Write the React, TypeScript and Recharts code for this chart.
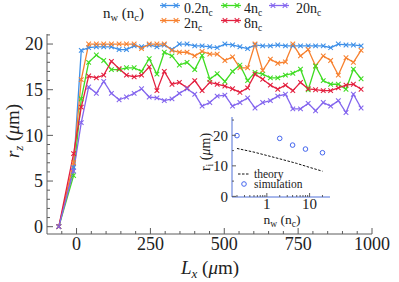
import React from "react";
import { LineChart, Line, XAxis, YAxis, ComposedChart, Scatter } from "recharts";

// ---------------- data ----------------
const lxValues = [-60, -10, 16, 41, 67, 92, 118, 144, 169, 195, 220, 246, 272, 297, 323, 348, 374, 400, 425, 451, 476, 502, 528, 553, 579, 604, 630, 656, 681, 707, 732, 758, 784, 809, 835, 860, 886, 912, 937, 963];
const rz02 = [0, 6.5, 19.3, 19.6, 19.7, 19.7, 19.7, 19.4, 19.4, 19.8, 19.7, 19.9, 19.7, 19.9, 19.4, 20.0, 20.0, 19.8, 19.8, 19.7, 19.6, 20.0, 19.9, 19.7, 19.5, 19.9, 19.8, 19.8, 19.9, 19.8, 19.8, 19.8, 19.8, 19.8, 19.8, 19.6, 20.0, 19.9, 19.9, 19.8];
const rz2 = [0, 7, 16.1, 20, 20, 20, 20, 20, 20, 20, 19.5, 20, 20, 20, 19.3, 19.1, 19.1, 18.7, 19.2, 18.9, 18.9, 18.2, 18.6, 17.4, 17.4, 20, 17.1, 18.35, 17.9, 18.05, 20, 18.7, 19.4, 17.6, 18.7, 18.2, 16.6, 18.5, 18.0, 19.3];
const rz4 = [0, 5.6, 14, 18.0, 18.8, 18.2, 17.2, 17.2, 17.4, 17.4, 17.0, 18.4, 16.7, 19.1, 18.7, 17.7, 18.0, 17.2, 18.75, 16.15, 16.75, 15.9, 17.0, 17.7, 16.0, 16.9, 16.7, 16.3, 16.3, 16.6, 16.8, 17.25, 15.0, 17.6, 16.0, 15.6, 15.6, 15.05, 17.25, 16.2];
const rz8 = [0, 8.0, 13.1, 16.5, 16.3, 16.6, 18.1, 17.3, 16.6, 16.4, 16.6, 17.5, 14.9, 17.0, 15.6, 15.8, 15.2, 16.0, 14.9, 15.8, 15.6, 15.4, 15.1, 14.7, 15.2, 16.7, 16.15, 15.5, 15.05, 15.5, 14.9, 15.8, 15.1, 15.0, 14.9, 14.9, 15.2, 15.5, 15.6, 15.05];
const rz20 = [0, 6.1, 11.4, 15.3, 14.6, 15.9, 14.6, 13.9, 14.2, 14.6, 15.1, 14.2, 14.1, 13.8, 14.0, 14.6, 15.1, 14.5, 13.2, 13.6, 14.3, 14.4, 13.2, 13.6, 14.1, 13.0, 13.6, 13.8, 14.3, 14.5, 12.9, 12.9, 13.5, 12.7, 13.6, 13.2, 13.8, 12.5, 14.5, 13.0];

const seriesKeys = ["a", "b", "c", "d", "e"];
const seriesLabels = ["0.2", "2", "4", "8", "20"];
const seriesColors = ["#3d8fe8", "#f7812f", "#3fdc22", "#e3203f", "#8466ee"];

const xMajor = [0, 250, 500, 750, 1000];
const xMinor = [-50, 50, 100, 150, 200, 300, 350, 400, 450, 550, 600, 650, 700, 800, 850, 900, 950];
const yMajor = [0, 5, 10, 15, 20];
const yMinor = [1, 2, 3, 4, 6, 7, 8, 9, 11, 12, 13, 14, 16, 17, 18, 19, 21];

// inset
const theoryNw = [0.2, 0.5, 1, 2, 5, 10, 20];
const theoryR = [15.7, 14.5, 13.4, 12.3, 10.8, 9.5, 8.25];
const simNw = [0.2, 2, 4, 8, 20];
const simR = [19.9, 19.0, 16.8, 15.5, 14.3];
const insetXMajor = [1, 10];
const insetXMinor = [0.2, 0.3, 0.4, 0.5, 0.6, 0.7, 0.8, 0.9, 2, 3, 4, 5, 6, 7, 8, 9, 20];
const insetYMajor = [0, 10, 20];
const insetYMinor = [5, 15, 25];

const mainData = lxValues.map((x, i) => ({ x, a: rz02[i], b: rz2[i], c: rz4[i], d: rz8[i], e: rz20[i] }));
const theoryRows = theoryNw.map((nw, i) => ({ nw, r: theoryR[i] }));
const simRows = simNw.map((nw, i) => ({ nw, r: simR[i] }));

// ---------------- style ----------------
const SERIF = "'Liberation Serif', 'DejaVu Serif', serif";
const FRAME = "#5c5c5c";
const INSET_FRAME = "#5070d8";
const SIM_COLOR = "#4466ee";
const TEXT = "#222";

const xTicksAll = [...xMinor, ...xMajor].sort((p, q) => p - q);
const yTicksAll = [...yMinor, ...yMajor].sort((p, q) => p - q);
const insetXAll = [...insetXMinor, ...insetXMajor].sort((p, q) => p - q);
const insetYAll = [...insetYMinor, ...insetYMajor].sort((p, q) => p - q);

const BM = 16;
const LM = 4;
const IBM = 12;

function makeBottomTick(majors: number[], margin: number, big: number, small: number, fs: number) {
  return (props: any) => {
    const { x, y, payload } = props;
    const major = majors.includes(payload.value);
    const y0 = y - margin;
    return (
      <g>
        <line x1={x} x2={x} y1={y0} y2={y0 - (major ? big : small)} stroke={FRAME} strokeWidth={1} />
        {major && (
          <text x={x} y={y} textAnchor="middle" fontFamily={SERIF} fontSize={fs} fill={TEXT}>
            {payload.value}
          </text>
        )}
      </g>
    );
  };
}
function makeTopTick(majors: number[], big: number, small: number) {
  return (props: any) => {
    const { x, y, payload } = props;
    const major = majors.includes(payload.value);
    return <line x1={x} x2={x} y1={y} y2={y + (major ? big : small)} stroke={FRAME} strokeWidth={1} />;
  };
}
function makeLeftTick(majors: number[], margin: number, big: number, small: number, fs: number) {
  return (props: any) => {
    const { x, y, payload } = props;
    const major = majors.includes(payload.value);
    const x0 = x + margin;
    return (
      <g>
        <line x1={x0} x2={x0 + (major ? big : small)} y1={y} y2={y} stroke={FRAME} strokeWidth={1} />
        {major && (
          <text x={x} y={y} dy="0.35em" textAnchor="end" fontFamily={SERIF} fontSize={fs} fill={TEXT}>
            {payload.value}
          </text>
        )}
      </g>
    );
  };
}
function makeRightTick(majors: number[], big: number, small: number) {
  return (props: any) => {
    const { x, y, payload } = props;
    const major = majors.includes(payload.value);
    return <line x1={x} x2={x - (major ? big : small)} y1={y} y2={y} stroke={FRAME} strokeWidth={1} />;
  };
}

const crossDot = (color: string) => (props: any) => {
  const { cx, cy, index } = props;
  if (cx == null || cy == null) return <g key={index} />;
  const s = 2.3;
  return (
    <path
      key={index}
      d={`M${cx - s},${cy - s}L${cx + s},${cy + s}M${cx - s},${cy + s}L${cx + s},${cy - s}`}
      stroke={color}
      strokeWidth={1.05}
      fill="none"
    />
  );
};

const XMAIN = [-100, 1000];
const YMAIN = [-0.8, 21.1];
const XINSET = [0.153, 30];
const YINSET = [-0.2, 26];

function MainChart() {
  return (
    <LineChart width={399} height={282} data={mainData} margin={{ top: 34, right: 27, bottom: 18, left: 7 }}>
      <XAxis
        xAxisId="b"
        dataKey="x"
        type="number"
        domain={XMAIN}
        allowDataOverflow
        ticks={xTicksAll}
        interval={0}
        height={30}
        tickSize={0}
        tickMargin={BM}
        tickLine={false}
        axisLine={{ stroke: FRAME, strokeWidth: 1 }}
        tick={makeBottomTick(xMajor, BM, 6, 3, 18)}
      />
      <XAxis
        xAxisId="t"
        orientation="top"
        dataKey="x"
        type="number"
        domain={XMAIN}
        allowDataOverflow
        ticks={xTicksAll}
        interval={0}
        height={0}
        tickSize={0}
        tickMargin={0}
        tickLine={false}
        axisLine={{ stroke: FRAME, strokeWidth: 1 }}
        tick={makeTopTick(xMajor, 6, 3)}
      />
      <YAxis
        yAxisId="l"
        type="number"
        domain={YMAIN}
        allowDataOverflow
        ticks={yTicksAll}
        interval={0}
        width={40}
        tickSize={0}
        tickMargin={LM}
        tickLine={false}
        axisLine={{ stroke: FRAME, strokeWidth: 1 }}
        tick={makeLeftTick(yMajor, LM, 6, 3, 18)}
      />
      <YAxis
        yAxisId="r"
        orientation="right"
        type="number"
        domain={YMAIN}
        allowDataOverflow
        ticks={yTicksAll}
        interval={0}
        width={0}
        tickSize={0}
        tickMargin={0}
        tickLine={false}
        axisLine={{ stroke: FRAME, strokeWidth: 1 }}
        tick={makeRightTick(yMajor, 6, 3)}
      />
      {seriesKeys.map((k, i) => (
        <Line
          key={k}
          xAxisId="b"
          yAxisId="l"
          dataKey={k}
          type="linear"
          stroke={seriesColors[i]}
          strokeWidth={1.3}
          dot={crossDot(seriesColors[i])}
          activeDot={false}
          isAnimationActive={false}
        />
      ))}
    </LineChart>
  );
}

function InsetChart() {
  return (
    <ComposedChart width={160} height={125} margin={{ top: 9, right: 20, bottom: 16, left: 6 }}>
      <XAxis
        xAxisId="b"
        dataKey="nw"
        type="number"
        scale="log"
        domain={XINSET}
        allowDataOverflow
        ticks={insetXAll}
        interval={0}
        height={20}
        tickSize={0}
        tickMargin={IBM}
        tickLine={false}
        axisLine={{ stroke: INSET_FRAME, strokeWidth: 1 }}
        tick={makeBottomTick(insetXMajor, IBM, 4, 2, 15)}
      />
      <XAxis
        xAxisId="t"
        orientation="top"
        dataKey="nw"
        type="number"
        scale="log"
        domain={XINSET}
        allowDataOverflow
        ticks={insetXAll}
        interval={0}
        height={0}
        tickSize={0}
        tickMargin={0}
        tickLine={false}
        axisLine={{ stroke: INSET_FRAME, strokeWidth: 1 }}
        tick={makeTopTick(insetXMajor, 4, 2)}
      />
      <YAxis
        yAxisId="l"
        type="number"
        domain={YINSET}
        allowDataOverflow
        ticks={insetYAll}
        interval={0}
        width={36}
        tickSize={0}
        tickMargin={4}
        tickLine={false}
        axisLine={{ stroke: INSET_FRAME, strokeWidth: 1 }}
        tick={makeLeftTick(insetYMajor, 4, 4, 2, 15)}
      />
      <YAxis
        yAxisId="r"
        orientation="right"
        type="number"
        domain={YINSET}
        allowDataOverflow
        ticks={insetYAll}
        interval={0}
        width={0}
        tickSize={0}
        tickMargin={0}
        tickLine={false}
        axisLine={{ stroke: INSET_FRAME, strokeWidth: 1 }}
        tick={makeRightTick(insetYMajor, 4, 2)}
      />
      <Line
        xAxisId="b"
        yAxisId="l"
        data={theoryRows}
        dataKey="r"
        type="linear"
        stroke="#111"
        strokeWidth={1}
        strokeDasharray="2.5 1.5"
        dot={false}
        activeDot={false}
        isAnimationActive={false}
      />
      <Scatter
        xAxisId="b"
        yAxisId="l"
        data={simRows}
        dataKey="r"
        isAnimationActive={false}
        shape={(p: any) => <circle cx={p.cx} cy={p.cy} r={2.3} fill="none" stroke={SIM_COLOR} strokeWidth={1} />}
      />
    </ComposedChart>
  );
}

const legendLayout = [
  { lx: 160, ly: 5.5, tx: 184, ty: 13 },
  { lx: 160, ly: 20.5, tx: 184, ty: 27.5 },
  { lx: 221, ly: 5.5, tx: 244, ty: 13 },
  { lx: 221, ly: 20.5, tx: 244, ty: 27.5 },
  { lx: 269, ly: 5.5, tx: 296, ty: 13 },
];

function Overlay() {
  const cross = (cx: number, cy: number, color: string, key: string) => {
    const s = 2.3;
    return (
      <path key={key} d={`M${cx - s},${cy - s}L${cx + s},${cy + s}M${cx - s},${cy + s}L${cx + s},${cy - s}`} stroke={color} strokeWidth={1.05} fill="none" />
    );
  };
  return (
    <svg width={399} height={282} style={{ position: "absolute", left: 0, top: 0, pointerEvents: "none" }}>
      <g fontFamily={SERIF} fill={TEXT}>
        {/* legend title */}
        <text x={103} y={18} fontSize={15}>
          n<tspan fontSize={10.5} dy={3}>w</tspan>
          <tspan dy={-3}> (n</tspan>
          <tspan fontSize={10.5} dy={3}>c</tspan>
          <tspan dy={-3}>)</tspan>
        </text>
        {seriesLabels.map((lab, i) => {
          const p = legendLayout[i];
          const c = seriesColors[i];
          return (
            <g key={lab}>
              <line x1={p.lx} x2={p.lx + 20} y1={p.ly} y2={p.ly} stroke={c} strokeWidth={1.3} />
              {cross(p.lx + 4, p.ly, c, lab + "a")}
              {cross(p.lx + 16, p.ly, c, lab + "b")}
              <text x={p.tx} y={p.ty} fontSize={14}>
                {lab}n<tspan fontSize={9.5} dy={3}>c</tspan>
              </text>
            </g>
          );
        })}
        {/* main axis labels */}
        <text transform="translate(19,131) rotate(-90)" textAnchor="middle" fontSize={19}>
          <tspan fontStyle="italic">r</tspan>
          <tspan fontStyle="italic" fontSize={13} dy={4}>z</tspan>
          <tspan dy={-4}> (</tspan>
          <tspan fontStyle="italic">μ</tspan>
          <tspan>m)</tspan>
        </text>
        <text x={210} y={274} textAnchor="middle" fontSize={19}>
          <tspan fontStyle="italic">L</tspan>
          <tspan fontStyle="italic" fontSize={13} dy={4}>x</tspan>
          <tspan dy={-4}> (</tspan>
          <tspan fontStyle="italic">μ</tspan>
          <tspan>m)</tspan>
        </text>
        {/* inset labels */}
        <text x={282} y={224} textAnchor="middle" fontSize={13.5}>
          n<tspan fontSize={9.5} dy={3}>w</tspan>
          <tspan dy={-3}> (n</tspan>
          <tspan fontSize={9.5} dy={3}>c</tspan>
          <tspan dy={-3}>)</tspan>
        </text>
        <text transform="translate(210,152) rotate(-90)" textAnchor="middle" fontSize={14}>
          <tspan>r</tspan>
          <tspan fontSize={10} dy={3}>i</tspan>
          <tspan dy={-3}> (</tspan>
          <tspan fontStyle="italic">μ</tspan>
          <tspan>m)</tspan>
        </text>
        {/* inset legend */}
        <line x1={238} x2={250} y1={174} y2={174} stroke="#111" strokeWidth={1} strokeDasharray="2.5 1.5" />
        <text x={254} y={177.5} fontSize={11.5}>theory</text>
        <circle cx={244} cy={184} r={2.3} fill="none" stroke={SIM_COLOR} strokeWidth={1} />
        <text x={254} y={188} fontSize={11.5}>simulation</text>
      </g>
    </svg>
  );
}

export default function App() {
  return (
    <div style={{ position: "absolute", left: 0, top: 0, width: 399, height: 282, background: "#fff", overflow: "hidden" }}>
      <div style={{ position: "absolute", left: 0, top: 0 }}>
        <MainChart />
      </div>
      <div style={{ position: "absolute", left: 190, top: 108 }}>
        <InsetChart />
      </div>
      <Overlay />
    </div>
  );
}
